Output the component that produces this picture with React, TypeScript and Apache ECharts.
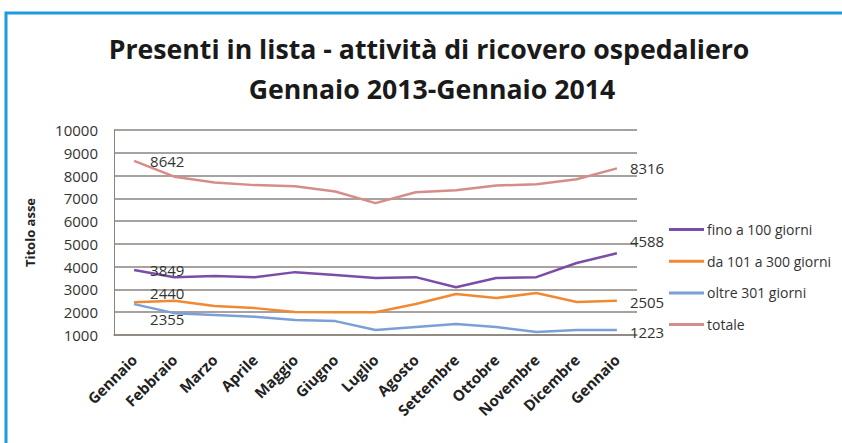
import React, { useEffect, useRef } from "react";
import * as echarts from "echarts";

const categories = ["Gennaio", "Febbraio", "Marzo", "Aprile", "Maggio", "Giugno", "Luglio", "Agosto", "Settembre", "Ottobre", "Novembre", "Dicembre", "Gennaio"];
const fino100 = [3849, 3540, 3590, 3540, 3760, 3630, 3500, 3540, 3100, 3500, 3540, 4160, 4588];
const da101a300 = [2440, 2500, 2270, 2180, 2010, 2000, 2000, 2360, 2800, 2620, 2840, 2450, 2505];
const oltre301 = [2355, 1960, 1880, 1800, 1660, 1610, 1220, 1350, 1480, 1350, 1130, 1220, 1223];
const totale = [8642, 7950, 7700, 7580, 7530, 7300, 6790, 7270, 7360, 7560, 7620, 7840, 8316];
const seriesNames = ["fino a 100 giorni", "da 101 a 300 giorni", "oltre 301 giorni", "totale"];
const titleLines = ["Presenti in lista - attività di ricovero ospedaliero", "Gennaio 2013-Gennaio 2014"];
const yAxisName = "Titolo asse";

const FONT = "'Open Sans', 'DejaVu Sans', sans-serif";

function withLabels(values: number[], firstOffset: number[], lastOffset: number[]) {
  return values.map((v, i) => {
    if (i === 0 || i === values.length - 1) {
      return {
        value: v,
        label: {
          show: true,
          position: "right",
          distance: i === 0 ? 16 : 13,
          offset: i === 0 ? firstOffset : lastOffset,
          formatter: "{c}",
          color: "#333",
          fontSize: 15,
          fontFamily: FONT,
        },
      };
    }
    return v;
  });
}

export default function App() {
  const ref = useRef<HTMLDivElement>(null);
  useEffect(() => {
    if (!ref.current) return;
    const chart = echarts.init(ref.current, undefined, { renderer: "svg" });
    const colors = ["#7a4ea8", "#f08a32", "#7b9fd6", "#d68c88"];
    const datasets = [
      withLabels(fino100, [0, 0], [0, -12]),
      withLabels(da101a300, [0, -9], [0, 1]),
      withLabels(oltre301, [0, 15], [0, 2]),
      withLabels(totale, [0, 0], [0, 0]),
    ];
    chart.setOption({
      animation: false,
      backgroundColor: "#ffffff",
      color: colors,
      graphic: [
        {
          type: "rect",
          shape: { x: 6, y: 13, width: 900, height: 500 },
          style: { fill: "none", stroke: "#1b9ce0", lineWidth: 3 },
          silent: true,
        },
        {
          type: "text",
          x: 429,
          y: 48,
          style: {
            text: titleLines[0],
            font: `bold 26.7px ${FONT}`,
            fill: "#1a1a1a",
            textAlign: "center",
            textVerticalAlign: "middle",
          },
        },
        {
          type: "text",
          x: 432,
          y: 88,
          style: {
            text: titleLines[1],
            font: `bold 26.7px ${FONT}`,
            fill: "#1a1a1a",
            textAlign: "center",
            textVerticalAlign: "middle",
          },
        },
      ],
      legend: {
        orient: "vertical",
        left: 664,
        top: 215,
        itemWidth: 35,
        itemHeight: 3,
        itemGap: 12.7,
        icon: "rect",
        data: seriesNames,
        textStyle: { fontSize: 14, fontFamily: FONT, color: "#333", padding: [0, 0, 0, -2], lineHeight: 19 },
      },
      grid: { left: 114, right: 205, top: 130, bottom: 108, containLabel: false },
      xAxis: {
        type: "category",
        data: categories,
        boundaryGap: true,
        axisLine: { lineStyle: { color: "#8a837e", width: 1.5 } },
        axisTick: { show: false },
        axisLabel: {
          rotate: 45,
          margin: 22,
          fontSize: 15,
          fontWeight: "bold",
          fontFamily: FONT,
          color: "#222",
          interval: 0,
        },
      },
      yAxis: {
        type: "value",
        min: 1000,
        max: 10000,
        interval: 1000,
        name: yAxisName,
        nameLocation: "middle",
        nameGap: 78,
        nameTextStyle: { fontSize: 13, fontWeight: "bold", fontFamily: FONT, color: "#222" },
        axisLine: { show: true, lineStyle: { color: "#8a837e", width: 1 } },
        axisTick: { show: false },
        axisLabel: {
          fontSize: 15,
          fontFamily: FONT,
          color: "#333",
          margin: 16,
          formatter: (v: number) => String(v),
        },
        splitLine: { lineStyle: { color: "#8a837e", width: 1.5 } },
      },
      series: seriesNames.map((name, i) => ({
        name,
        type: "line",
        data: datasets[i],
        symbol: "circle",
        symbolSize: 0,
        showSymbol: true,
        lineStyle: { width: 2.5, color: colors[i] },
        itemStyle: { color: colors[i] },
        z: 3,
      })),
    });
    return () => chart.dispose();
  }, []);
  return (
    <div
      ref={ref}
      style={{ position: "fixed", left: 0, top: 0, width: 842, height: 443 }}
    />
  );
}
